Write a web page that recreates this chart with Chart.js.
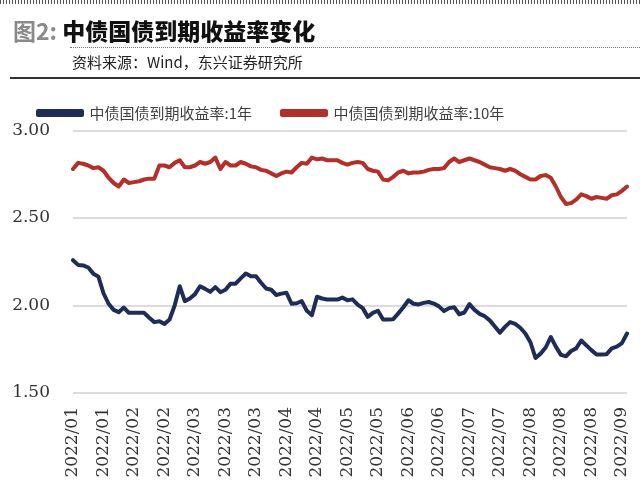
<!DOCTYPE html>
<html>
<head>
<meta charset="utf-8">
<script src="https://cdn.jsdelivr.net/npm/chart.js@4/dist/chart.umd.min.js"></script>
<style>
  html, body { margin: 0; padding: 0; background: #fff; }
  #wrap { position: relative; width: 640px; height: 491px; overflow: hidden; }
  #chart { position: absolute; left: 0; top: 0; }
  .stripe { position: absolute; left: 0; top: 0; width: 640px; height: 4px;
    background: repeating-linear-gradient(to right, #555 0 1px, transparent 1px 3px); }
  .title { position: absolute; left: 13px; top: 14px; font-family: "Noto Sans CJK SC"; font-weight: 900;
    font-size: 23px; line-height: 32px; color: #111; }
  .title .fig { color: #8a8a8a; font-weight: 700; }
  .dots { position: absolute; left: 70px; top: 47px; width: 570px; border-top: 1px dotted #777; }
  .source { position: absolute; left: 72px; top: 51px; font-family: "Noto Sans CJK SC"; font-size: 15px;
    line-height: 22px; color: #222; }
  .rule { position: absolute; left: 10px; top: 77px; width: 630px; height: 2px; background: #333; }
</style>
</head>
<body>
<div id="wrap">
  <canvas id="chart" width="640" height="491"></canvas>
  <div class="stripe"></div>
  <div class="title"><span class="fig">图2:</span> 中债国债到期收益率变化</div>
  <div class="dots"></div>
  <div class="source">资料来源：Wind，东兴证券研究所</div>
  <div class="rule"></div>
</div>
<script>
// tick labels shown every 6th point
const tickLabels = ["2022/01", "2022/01", "2022/02", "2022/02", "2022/03", "2022/03", "2022/03",
  "2022/04", "2022/04", "2022/05", "2022/05", "2022/06", "2022/06", "2022/07", "2022/07",
  "2022/08", "2022/08", "2022/08", "2022/09"];
const tickStep = 6;

const seriesNames = ["中债国债到期收益率:1年", "中债国债到期收益率:10年"];

// 1y yield (%)
const yield1y = [2.259, 2.232, 2.229, 2.217, 2.182, 2.165, 2.07, 2.01, 1.975, 1.962,
  1.988, 1.958, 1.958, 1.958, 1.958, 1.93, 1.905, 1.91, 1.895, 1.92,
  2.00, 2.11, 2.025, 2.04, 2.065, 2.11, 2.095, 2.078, 2.105, 2.076,
  2.09, 2.125, 2.125, 2.155, 2.183, 2.167, 2.167, 2.13, 2.097, 2.09,
  2.06, 2.068, 2.073, 2.01, 2.013, 2.025, 1.97, 1.945, 2.05, 2.04,
  2.034, 2.034, 2.034, 2.045, 2.03, 2.035, 2.005, 1.985, 1.935, 1.958,
  1.97, 1.92, 1.92, 1.922, 1.955, 1.99, 2.03, 2.01, 2.006, 2.015,
  2.02, 2.011, 1.995, 1.968, 1.985, 1.99, 1.95, 1.96, 2.008, 1.975,
  1.952, 1.939, 1.915, 1.88, 1.845, 1.878, 1.905, 1.895, 1.873, 1.84,
  1.79, 1.70, 1.725, 1.76, 1.82, 1.765, 1.718, 1.71, 1.74, 1.755,
  1.80, 1.772, 1.745, 1.72, 1.72, 1.722, 1.755, 1.765, 1.785, 1.84];

// 10y yield (%)
const yield10y = [2.78, 2.815, 2.81, 2.80, 2.785, 2.79, 2.77, 2.73, 2.70, 2.68,
  2.72, 2.70, 2.705, 2.71, 2.72, 2.725, 2.725, 2.80, 2.80, 2.79,
  2.815, 2.83, 2.79, 2.79, 2.80, 2.82, 2.81, 2.82, 2.845, 2.78,
  2.82, 2.80, 2.80, 2.82, 2.81, 2.795, 2.79, 2.775, 2.77, 2.755,
  2.74, 2.755, 2.765, 2.76, 2.79, 2.815, 2.81, 2.845, 2.835, 2.84,
  2.83, 2.83, 2.83, 2.815, 2.805, 2.815, 2.82, 2.815, 2.78, 2.77,
  2.765, 2.72, 2.715, 2.735, 2.76, 2.77, 2.755, 2.76, 2.76, 2.765,
  2.775, 2.78, 2.78, 2.785, 2.82, 2.84, 2.82, 2.83, 2.84, 2.83,
  2.82, 2.805, 2.79, 2.785, 2.78, 2.77, 2.78, 2.77, 2.75, 2.735,
  2.72, 2.72, 2.74, 2.745, 2.73, 2.68, 2.62, 2.58, 2.585, 2.605,
  2.635, 2.625, 2.61, 2.62, 2.615, 2.61, 2.63, 2.635, 2.655, 2.68];

const labels = yield1y.map((_, i) => i % tickStep === 0 ? tickLabels[i / tickStep] : "");

const blue = "#1f2d56";
const red = "#b3302a";

new Chart(document.getElementById("chart").getContext("2d"), {
  type: "line",
  data: {
    labels: labels,
    datasets: [
      { label: seriesNames[0], data: yield1y, borderColor: blue, backgroundColor: blue,
        borderWidth: 4, pointRadius: 0, tension: 0, borderJoinStyle: "round", borderCapStyle: "round" },
      { label: seriesNames[1], data: yield10y, borderColor: red, backgroundColor: red,
        borderWidth: 4, pointRadius: 0, tension: 0, borderJoinStyle: "round", borderCapStyle: "round" }
    ]
  },
  options: {
    responsive: false,
    animation: false,
    layout: { padding: { left: 8, right: 13, top: 75.5, bottom: 0 } },
    plugins: {
      tooltip: { enabled: false },
      legend: {
        align: "start",
        labels: {
          boxWidth: 44,
          boxHeight: 4,
          padding: 30,
          color: "#404040",
          font: { family: "Noto Sans CJK SC", size: 15 }
        }
      }
    },
    scales: {
      x: {
        grid: { display: false, drawTicks: false },
        border: { display: false },
        afterFit: s => { s.height = 98; s.paddingLeft = 0; s.paddingRight = 0; },
        ticks: {
          autoSkip: false,
          minRotation: 90,
          maxRotation: 90,
          padding: 14,
          color: "#333",
          font: { family: "DejaVu Serif", size: 17 }
        }
      },
      y: {
        min: 1.5,
        max: 3.0,
        afterFit: s => { s.width = 65; },
        grid: { color: "#dcdcdc", lineWidth: 2, drawTicks: false },
        border: { display: false },
        ticks: {
          stepSize: 0.5,
          padding: 23,
          color: "#333",
          font: { family: "DejaVu Serif", size: 17 },
          callback: v => Number(v).toFixed(2)
        }
      }
    }
  }
});
</script>
</body>
</html>
